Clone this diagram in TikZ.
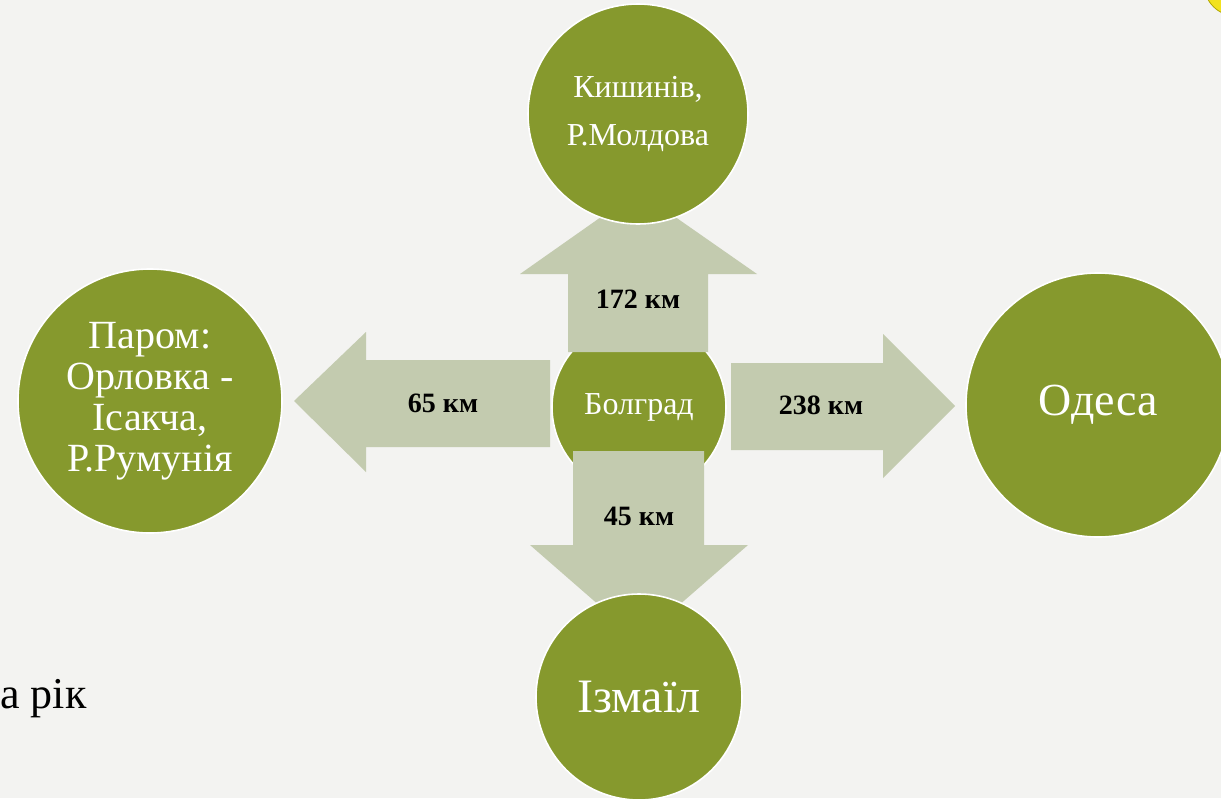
\documentclass[tikz,border=0pt]{standalone}
\usepackage{fontspec}
\setmainfont{Liberation Serif}
\definecolor{cityolive}{HTML}{86992D}
\definecolor{arrowsage}{HTML}{C3CBAF}
\definecolor{paper}{HTML}{F3F3F1}
\definecolor{sun}{HTML}{F2E21E}

\begin{document}
\begin{tikzpicture}[x=0.5pt, y=-0.5pt,
  city/.style={circle, fill=cityolive, draw=white, line width=0.8pt, inner sep=0pt, text=white, align=center},
  dist/.style={font=\bfseries\fontsize{14}{16}\selectfont}]

  % page
  \fill [paper] (0,0) rectangle (1221,798);
  \useasboundingbox (0,0) rectangle (1221,798);
  \fill [sun, draw=olive!70!yellow] (1236,-16) circle (32);
  \node [anchor=base west, font=\fontsize{22}{26}\selectfont, inner sep=0pt] (year) at (0,708) {а рік};

  % draw centre
  \node [city, minimum size=87pt, font=\fontsize{16}{19}\selectfont] (bolgrad) at (639,407) {Болград};

  % draw arrows
  \fill [arrowsage] (568,352) -- (568,274) -- (520,274) -- (638,191) -- (757,274) -- (708,274) -- (708,352) -- cycle;
  \fill [arrowsage] (550,360) -- (366,360) -- (366,332) -- (294,401) -- (366,472) -- (366,447) -- (550,447) -- cycle;
  \fill [arrowsage] (731,363) -- (883,363) -- (883,334) -- (955,406) -- (883,478) -- (883,450) -- (731,450) -- cycle;
  \fill [arrowsage] (573,451) -- (704,451) -- (704,545) -- (748,545) -- (639,640) -- (530,545) -- (573,545) -- cycle;

  % distances
  \foreach \n/\x/\y/\t in {up/638/299/172, left/443/403/65, right/821/405/238, down/639/516/45}
  \node [dist] (km-\n) at (\x,\y) {\t~км};

  % draw destinations
  \node [city, minimum size=110pt, font=\fontsize{16}{24}\selectfont] (kyshyniv) at (638,114) {Кишинів,\\Р.Молдова};
  \node [city, minimum size=132pt, font=\fontsize{20}{20.5}\selectfont] (porom) at (150,401) {Паром:\\Орловка -\\Ісакча,\\Р.Румунія};
  \node [city, minimum size=132pt, font=\fontsize{23}{26}\selectfont] (odesa) at (1098,405) {Одеса};
  \node [city, minimum size=103pt, font=\fontsize{24}{27}\selectfont] (izmail) at (639,697) {Ізмаїл};

\end{tikzpicture}
\end{document}
